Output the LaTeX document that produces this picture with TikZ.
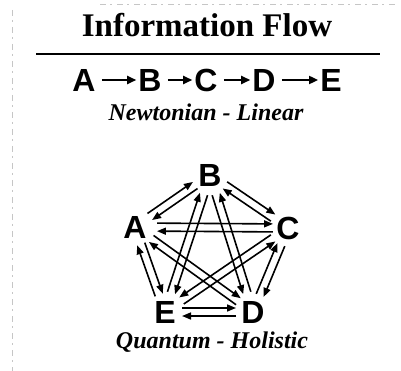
\documentclass[tikz,border=0pt]{standalone}
\usepackage{fontspec}
\setmainfont{Liberation Serif}
\setsansfont{Liberation Sans}
\usetikzlibrary{arrows.meta,calc}
\tikzset{
  pl/.style={font=\sffamily\bfseries\fontsize{32}{32}\selectfont, inner sep=0pt},
  chain/.style={-{Triangle[length=9pt,width=8pt]}, line width=1.8pt, shorten <=6pt, shorten >=2pt},
  arr/.style={-{Triangle[length=9pt,width=7pt]}, line width=1.6pt},
  scan/.style={gray!45, line width=0.6pt, dash pattern=on 6pt off 4pt on 2pt off 5pt},
}
\newcommand\twopair[5]{%
  \draw[arr, shorten <=#4, shorten >=#5] ($(#1)!4pt!#3:(#2)$) -- ($(#2)!4pt!180+#3:(#1)$);
  \draw[arr, shorten <=#5, shorten >=#4] ($(#2)!4pt!#3:(#1)$) -- ($(#1)!4pt!180+#3:(#2)$);
}
\begin{document}
\begin{tikzpicture}[x=1pt,y=-1pt]
\useasboundingbox (0,0) rectangle (401,371);
% faint scan marks
\draw[scan] (12,10) -- (12,371);
\draw[scan] (100,4) -- (395,4);
% title
\node[font=\bfseries\fontsize{33}{33}\selectfont, inner sep=0pt] (title) at (207,25) {Information Flow};
\draw[line width=2.8pt] (36,54) -- (380,54);
% linear chain
\node[pl] (la) at (84,80) {A};
\node[pl] (lb) at (150,80) {B};
\node[pl] (lc) at (206,80) {C};
\node[pl] (ld) at (264,80) {D};
\node[pl] (le) at (331,80) {E};
\draw[chain] (la) -- (lb);
\draw[chain] (lb) -- (lc);
\draw[chain] (lc) -- (ld);
\draw[chain] (ld) -- (le);
\node[font=\bfseries\itshape\fontsize{24}{24}\selectfont, inner sep=0pt, anchor=base] (newt) at (206,121) {Newtonian - Linear};
% pentagon
\node[pl] (A) at (135,227) {A};
\node[pl] (B) at (210,175) {B};
\node[pl] (C) at (288,228) {C};
\node[pl] (D) at (253,312) {D};
\node[pl] (E) at (165,312) {E};
\twopair{A}{B}{90}{18pt}{18pt}
\twopair{B}{C}{90}{18pt}{18pt}
\twopair{C}{D}{90}{18pt}{18pt}
\twopair{D}{E}{90}{17pt}{17pt}
\twopair{E}{A}{90}{18pt}{18pt}
\twopair{A}{C}{90}{22pt}{15pt}
\twopair{E}{B}{90}{20pt}{20pt}
\twopair{B}{D}{270}{20pt}{20pt}
\twopair{A}{D}{90}{20pt}{18pt}
\twopair{C}{E}{270}{18pt}{20pt}
\node[font=\bfseries\itshape\fontsize{24}{24}\selectfont, inner sep=0pt, anchor=base] (quant) at (212,348) {Quantum - Holistic};
\end{tikzpicture}
\end{document}
